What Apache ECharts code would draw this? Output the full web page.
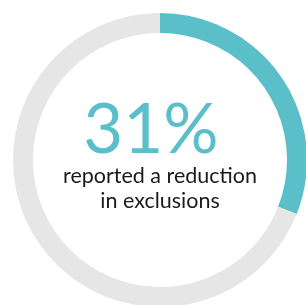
<!DOCTYPE html>
<html><head><meta charset="utf-8">
<script src="https://cdn.jsdelivr.net/npm/echarts@6/dist/echarts.min.js"></script>
<style>html,body{margin:0;padding:0;background:#fff}#c{width:306px;height:305px}</style>
</head><body><div id="c"></div>
<script>
var categories = ['Reported a reduction', 'Other'];
var values = [31, 69];
var bigLabel = '31%';
var subLabel = ['reported a reduction', 'in exclusions'];
var colors = ['#5bbfc9', '#e6e6e6'];

var chart = echarts.init(document.getElementById('c'));
chart.setOption({
  animation: false,
  series: [{
    type: 'pie',
    center: [160, 160],
    radius: [127, 147],
    startAngle: 90,
    clockwise: true,
    silent: true,
    label: { show: false },
    labelLine: { show: false },
    data: categories.map(function (c, i) {
      return { name: c, value: values[i], itemStyle: { color: colors[i] } };
    })
  }],
  graphic: [
    { type: 'text', x: 151, y: 165, style: { text: bigLabel, fill: '#5bbfc9', font: '69px Lato', textAlign: 'center', textVerticalAlign: 'bottom' } },
    { type: 'text', x: 160, y: 165, style: { text: subLabel[0], fill: '#1a1a1a', font: '21.5px Lato', textAlign: 'center', textVerticalAlign: 'top' } },
    { type: 'text', x: 160, y: 190, style: { text: subLabel[1], fill: '#1a1a1a', font: '21.5px Lato', textAlign: 'center', textVerticalAlign: 'top' } }
  ]
});
</script></body></html>
